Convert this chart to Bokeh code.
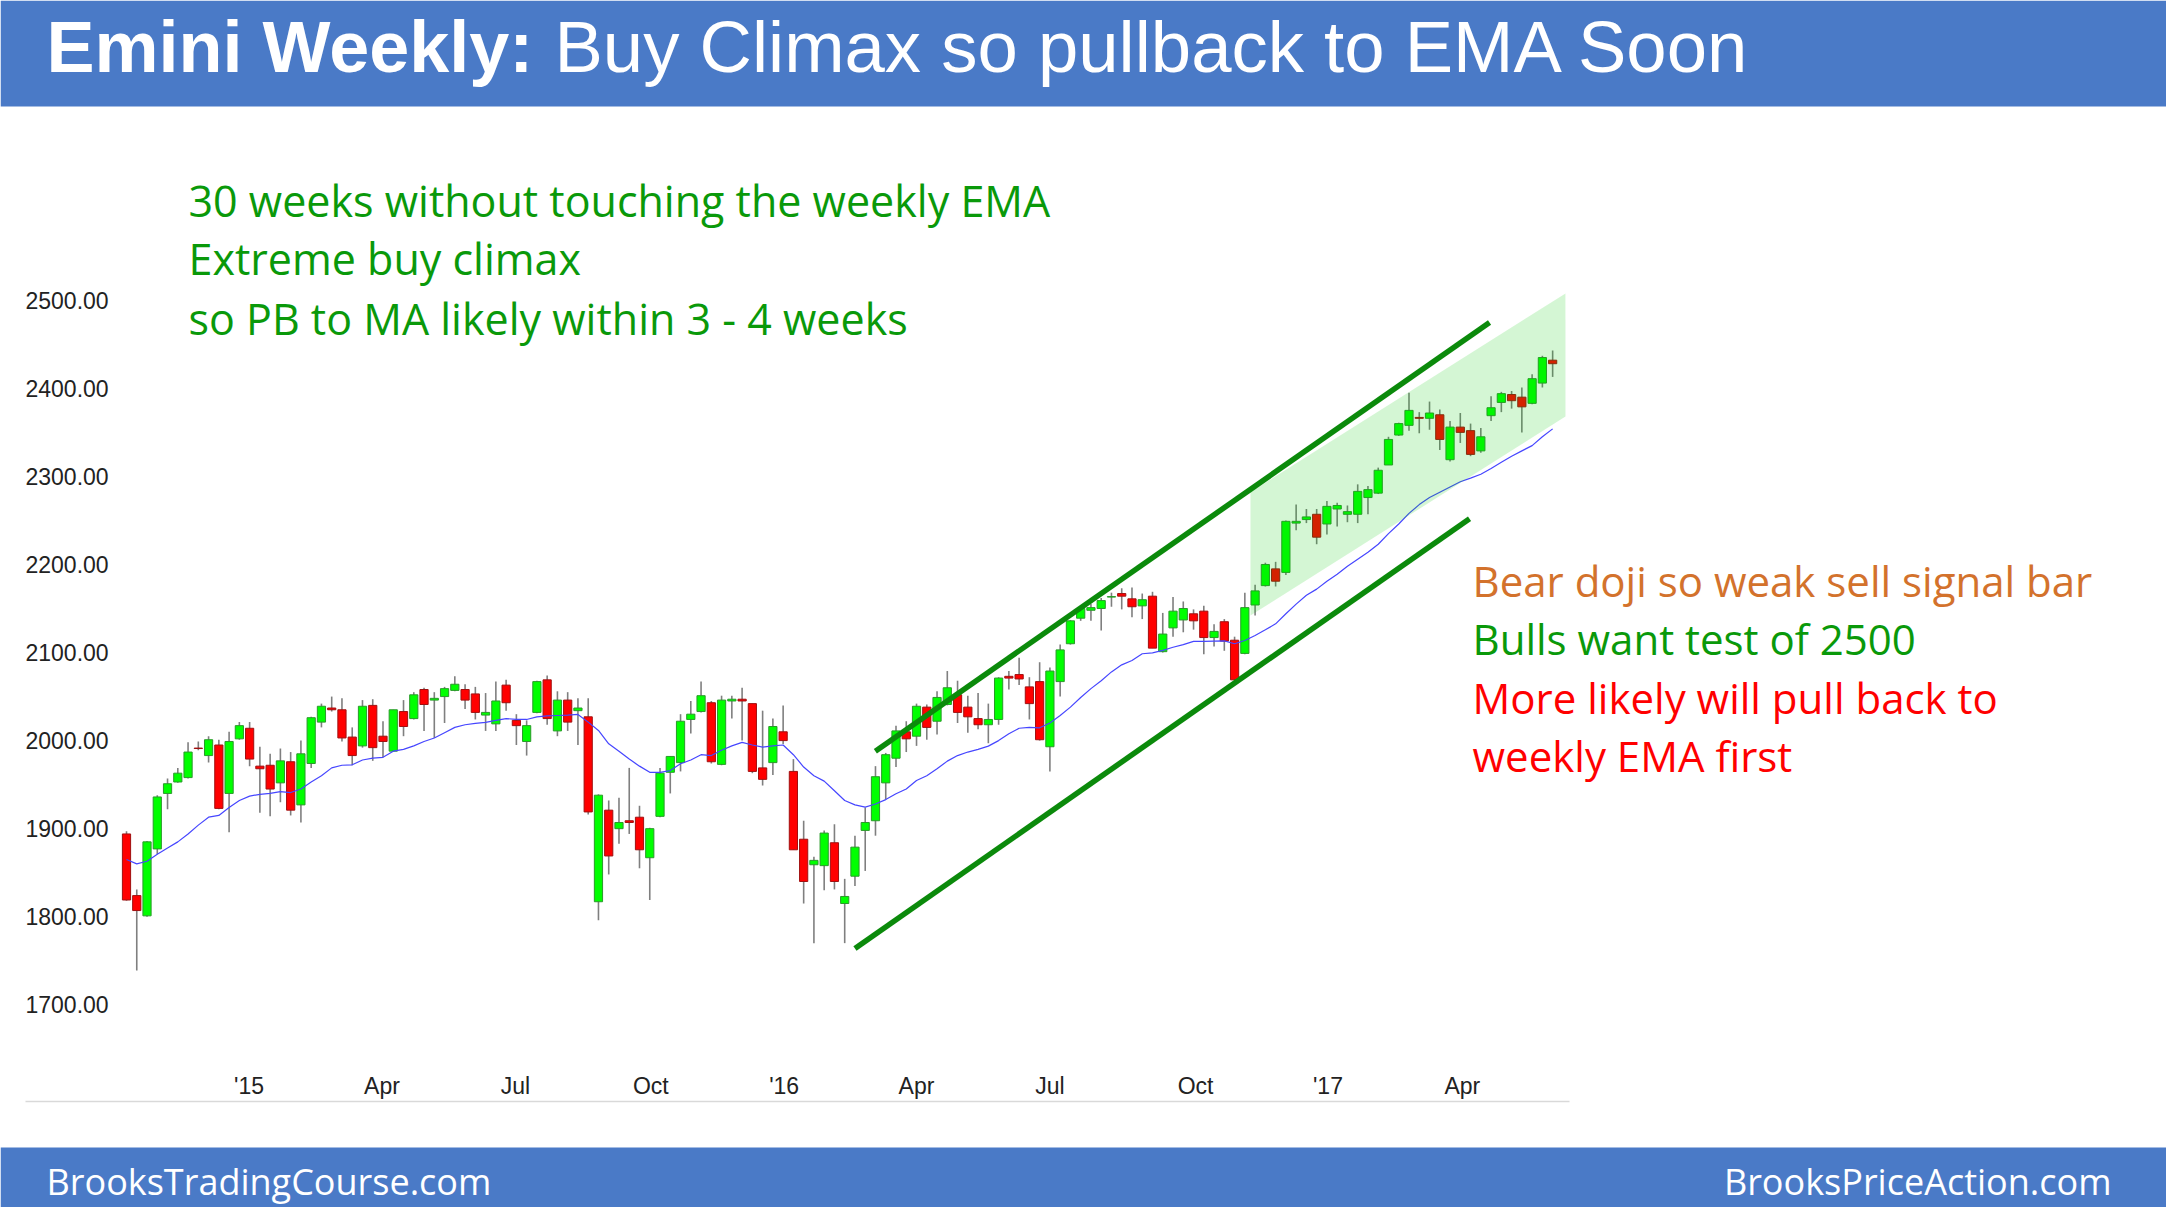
from bokeh.plotting import figure
from bokeh.models import Range1d, ColumnDataSource
from bokeh.core.properties import value
from bokeh.embed import file_html
from bokeh.resources import INLINE

# ---------------- data (weekly Emini bars) ----------------
opens = [1894, 1824, 1801, 1877, 1940, 1953, 1958, 1991.5, 1983, 1995,
         1940, 2002, 2014, 1971, 1972, 1952, 1976, 1927, 1974, 2021,
         2037, 2035, 2004, 1994, 2040, 2005, 1988, 2033, 2025, 2058,
         2046, 2050, 2057, 2058, 2053, 2029, 2019, 2063, 2023, 1999,
         2032, 2069, 2011, 2046, 2034, 2027, 1817, 1921, 1900, 1909,
         1913, 1867, 1914, 1964, 1975, 2024, 2033, 2043, 1973, 2045,
         2047, 2042, 1969, 1975, 2010, 1965, 1888, 1859, 1858, 1884,
         1815, 1846, 1898, 1909, 1952, 1980, 2010, 2005, 2038, 2022,
         2041, 2052, 2038, 2025, 2018, 2024, 2073, 2075, 2061, 2067,
         1993, 2067, 2110, 2139, 2148, 2150, 2163, 2167, 2161, 2153,
         2164, 2101, 2128, 2137, 2144, 2147, 2117, 2135, 2114, 2099,
         2154, 2176, 2195, 2191, 2247, 2251, 2257, 2246, 2263, 2257,
         2257, 2276, 2281, 2313, 2347, 2358, 2367, 2366, 2370, 2319,
         2356, 2352, 2329, 2369, 2384, 2393, 2390, 2383, 2406, 2432]
highs = [1897, 1831, 1886, 1938, 1957, 1969, 1998, 1999, 2005, 2001,
         2010, 2021, 2021, 1993, 1985, 1991, 1987, 2000, 2027, 2042,
         2050, 2048, 2015, 2046, 2047, 2022, 2035, 2046, 2055, 2060,
         2055, 2061, 2073, 2064, 2061, 2054, 2067, 2069, 2030, 2023,
         2068, 2074, 2056, 2055, 2048, 2048, 1939, 1932, 1935, 1969,
         1926, 1901, 1969, 1982, 2030, 2045, 2067, 2045, 2051, 2051,
         2060, 2042, 2034, 2025, 2040, 1979, 1909, 1868, 1898, 1905,
         1843, 1892, 1924, 1971, 1986, 2017, 2022, 2042, 2041, 2056,
         2079, 2068, 2051, 2054, 2042, 2072, 2079, 2094, 2072, 2089,
         2083, 2109, 2137, 2152, 2155, 2162, 2168, 2173, 2174, 2167,
         2169, 2145, 2163, 2158, 2149, 2153, 2132, 2138, 2118, 2168,
         2177, 2202, 2203, 2250, 2268, 2263, 2263, 2272, 2270, 2267,
         2291, 2289, 2310, 2345, 2361, 2395, 2373, 2385, 2376, 2363,
         2372, 2360, 2355, 2391, 2396, 2397, 2401, 2416, 2437, 2443]
lows = [1818, 1739, 1800, 1871, 1922, 1952, 1957, 1989, 1975, 1922,
        1896, 2001, 1971, 1918, 1914, 1930, 1915, 1907, 1969, 2015,
        2033, 1999, 1972, 1992, 1977, 1981, 1988, 2005, 2024, 2011,
        2003, 2020, 2056, 2036, 2024, 2011, 2011, 2034, 1995, 1983,
        2031, 2018, 2005, 2011, 1995, 1916, 1796, 1848, 1883, 1894,
        1855, 1819, 1913, 1940, 1965, 2008, 2032, 1974, 1972, 2025,
        2000, 1963, 1949, 1961, 1996, 1876, 1815, 1770, 1830, 1831,
        1770, 1835, 1852, 1892, 1933, 1970, 1987, 1994, 2001, 2007,
        2040, 2020, 2009, 2013, 1997, 2018, 2058, 2063, 2024, 2000,
        1965, 2050, 2109, 2136, 2136, 2125, 2152, 2149, 2140, 2138,
        2105, 2100, 2118, 2123, 2126, 2098, 2107, 2102, 2069, 2098,
        2142, 2175, 2175, 2188, 2239, 2247, 2223, 2234, 2243, 2248,
        2247, 2257, 2280, 2313, 2346, 2352, 2349, 2353, 2330, 2317,
        2338, 2323, 2327, 2363, 2373, 2377, 2350, 2382, 2401, 2413]
closes = [1819, 1807, 1885, 1936, 1951, 1963, 1987, 1991, 2001, 1923,
          1999, 2017, 1979, 1968, 1945, 1977, 1921, 1985, 2026, 2039,
          2035, 2003, 1983, 2039, 1992, 1999, 2035, 2016, 2052, 2041,
          2048, 2059, 2064, 2046, 2032, 2032, 2045, 2043, 2017, 2017,
          2067, 2025, 2046, 2021, 2037, 1919, 1938, 1869, 1907, 1907,
          1876, 1900, 1963, 1982, 2022, 2030, 2051, 1976, 2046, 2047,
          2045, 1965, 1956, 2016, 2000, 1876, 1840, 1864, 1895, 1840,
          1823, 1879, 1907, 1959, 1984, 2011, 2002, 2039, 2015, 2049,
          2060, 2032, 2027, 2018, 2024, 2071, 2071, 2070, 2042, 2001,
          2079, 2103, 2136, 2150, 2151, 2159, 2163.5, 2164, 2152, 2160,
          2105, 2121, 2147, 2150, 2136, 2117, 2124, 2113, 2069, 2151,
          2170, 2200, 2181, 2249, 2249, 2254, 2231, 2266, 2267, 2260,
          2283, 2285, 2307, 2342, 2360, 2375, 2366, 2372, 2342, 2356,
          2350, 2325, 2345, 2378, 2394, 2386, 2379, 2411, 2435, 2428]
ema = [1865, 1860, 1863, 1871, 1878, 1885, 1894, 1904, 1913, 1915,
       1924, 1932, 1937, 1939, 1940, 1942, 1941, 1945, 1953, 1960,
       1969, 1972, 1972.5, 1978, 1980, 1981, 1988, 1990, 1994, 1999,
       2003, 2009, 2015, 2018, 2019.5, 2020.6, 2023, 2025, 2024, 2024,
       2027, 2028, 2028.5, 2029, 2029.7, 2021, 2011.5, 1996.4, 1988, 1979,
       1971, 1964, 1964, 1966, 1973.7, 1978, 1984, 1983, 1989, 1994,
       1998, 1995, 1992.6, 1994, 1995, 1984, 1970, 1960, 1954, 1943,
       1932, 1927, 1924.4, 1928, 1933, 1939.6, 1945, 1954.7, 1960, 1968,
       1976.7, 1983, 1987, 1990, 1993.7, 2000, 2007.7, 2014, 2015, 2014.5,
       2020, 2028.5, 2038, 2049, 2059, 2068, 2078, 2086, 2091, 2098.6,
       2099.7, 2102.4, 2106, 2109, 2112.6, 2112.6, 2113, 2113.3, 2110, 2113.7,
       2119.4, 2125.8, 2132.6, 2144, 2155, 2165, 2172, 2181, 2189, 2198,
       2206, 2214, 2223, 2235, 2246, 2258, 2268, 2276, 2282, 2288,
       2294, 2298, 2302.5, 2309, 2316, 2323, 2329, 2335, 2345, 2354]

x_tick_pos = [11.95, 24.9, 37.9, 51.1, 64.1, 77.0, 90.0, 104.2, 117.1, 130.2]
x_tick_labels = ["'15", "Apr", "Jul", "Oct", "'16", "Apr", "Jul", "Oct", "'17", "Apr"]
y_ticks = [1700, 1800, 1900, 2000, 2100, 2200, 2300, 2400, 2500]

# channel lines and shaded channel (bar index, price)
upper_channel_x = [72.99, 132.85]
upper_channel_y = [1988.0, 2474.8]
lower_channel_x = [71.0, 130.9]
lower_channel_y = [1763.9, 2251.9]
shade_x = [109.55, 140.25, 140.25, 109.55]
shade_y = [2282.1, 2507.8, 2368.0, 2142.1]

title_bold = "Emini Weekly:"
title_rest = "Buy Climax so pullback to EMA Soon"
notes_left = ["30 weeks without touching the weekly EMA",
              "Extreme buy climax",
              "so PB to MA likely within 3 - 4 weeks"]
notes_right = ["Bear doji so weak sell signal bar",
               "Bulls want test of 2500",
               "More likely will pull back to",
               "weekly EMA first"]
footer_left = "BrooksTradingCourse.com"
footer_right = "BrooksPriceAction.com"

# ---------------- layout constants (pixels) ----------------
W = 2166
H = 1207
H_HEAD = 106
FOOT_TOP = 1147
BAR0_PX = 126.0
BAR_PX = 10.26
Y2500_PX = 299.8
PX_PER_PT = 0.8806

BLUE = "#4A7AC7"
TXT_GREEN = "#0A990A"
LINE_GREEN = "#0B8A0B"
TXT_ORANGE = "#D3722C"
TXT_RED = "#FF0000"
LABEL_COLOR = "#222222"


def px_to_idx(px):
    return (px - BAR0_PX) / BAR_PX


def py_to_price(py):
    return 2500 - (py - Y2500_PX) / PX_PER_PT


p = figure(width=W, height=H,
           x_range=Range1d(px_to_idx(0), px_to_idx(W)),
           y_range=Range1d(py_to_price(H), py_to_price(0)),
           output_backend="svg", toolbar_location=None, min_border=0,
           x_axis_location=None, y_axis_location=None)
p.grid.visible = False
p.outline_line_color = None
p.background_fill_color = "white"
p.border_fill_color = "white"
p.extra_x_ranges = {"px": Range1d(0, W)}
p.extra_y_ranges = {"px": Range1d(H, 0)}

# header & footer bands
p.quad(left=[0], right=[W], top=[0], bottom=[H_HEAD], fill_color=BLUE, line_color=None,
       x_range_name="px", y_range_name="px")
p.quad(left=[0], right=[W], top=[FOOT_TOP], bottom=[H], fill_color=BLUE, line_color=None,
       x_range_name="px", y_range_name="px")
p.segment(x0=[25], y0=[1101], x1=[1569], y1=[1101], line_color="#D9D9D9", line_width=1.5,
          x_range_name="px", y_range_name="px")

p.text(x=[46], y=[46], text=[title_bold], text_font=value("Liberation Sans"),
       text_font_style="bold", text_font_size="72px", text_color="white",
       text_baseline="middle", text_align="left", x_range_name="px", y_range_name="px")
p.text(x=[554], y=[46], text=[title_rest], text_font=value("Liberation Sans"),
       text_font_size="72.5px", text_color="white",
       text_baseline="middle", text_align="left", x_range_name="px", y_range_name="px")

# axis tick labels (placed through the price / bar-index scales)
p.text(x=[25] * len(y_ticks), y=y_ticks, text=["%.2f" % v for v in y_ticks],
       x_range_name="px", text_font=value("Liberation Sans"), text_font_size="23px",
       text_color=LABEL_COLOR, text_baseline="middle", text_align="left")
p.text(x=x_tick_pos, y=[1085] * len(x_tick_pos), text=x_tick_labels,
       y_range_name="px", text_font=value("Liberation Sans"), text_font_size="23px",
       text_color=LABEL_COLOR, text_baseline="middle", text_align="center")

# candles
idx = list(range(len(opens)))
up = [c >= o for o, c in zip(opens, closes)]
src = ColumnDataSource(dict(
    x=idx, high=highs, low=lows,
    top=[max(o, c) for o, c in zip(opens, closes)],
    bottom=[min(o, c) for o, c in zip(opens, closes)],
    fill=["#00FF00" if u else "#FF0000" for u in up],
    line=["#2A9A2A" if u else "#A01010" for u in up],
))
p.segment(x0="x", y0="high", x1="x", y1="low", source=src, line_color="#7F7F7F", line_width=1.6)
p.vbar(x="x", width=0.8, top="top", bottom="bottom", source=src,
       fill_color="fill", line_color="line", line_width=1)
p.line(idx, ema, line_color="#4646FF", line_width=1.2)

p.patch(shade_x, shade_y, fill_color="#00C800", fill_alpha=0.17, line_color=None)
p.line(upper_channel_x, upper_channel_y, line_color=LINE_GREEN, line_width=5.5)
p.line(lower_channel_x, lower_channel_y, line_color=LINE_GREEN, line_width=5.5)

p.text(x=[188] * 3, y=[200, 258, 318], text=notes_left, x_range_name="px", y_range_name="px",
       text_font=value("Open Sans"), text_font_size="43px", text_color=TXT_GREEN,
       text_baseline="middle", text_align="left")
p.text(x=[1472] * 4, y=[580, 638, 697, 755], text=notes_right, x_range_name="px", y_range_name="px",
       text_font=value("Open Sans"), text_font_size="42px",
       text_color=[TXT_ORANGE, TXT_GREEN, TXT_RED, TXT_RED],
       text_baseline="middle", text_align="left")

p.text(x=[46], y=[1181], text=[footer_left], text_font=value("Open Sans"), text_font_size="36px",
       text_color="white", text_baseline="middle", text_align="left",
       x_range_name="px", y_range_name="px")
p.text(x=[2111], y=[1181], text=[footer_right], text_font=value("Open Sans"), text_font_size="36px",
       text_color="white", text_baseline="middle", text_align="right",
       x_range_name="px", y_range_name="px")

open("out.html", "w").write(file_html(p, INLINE))
